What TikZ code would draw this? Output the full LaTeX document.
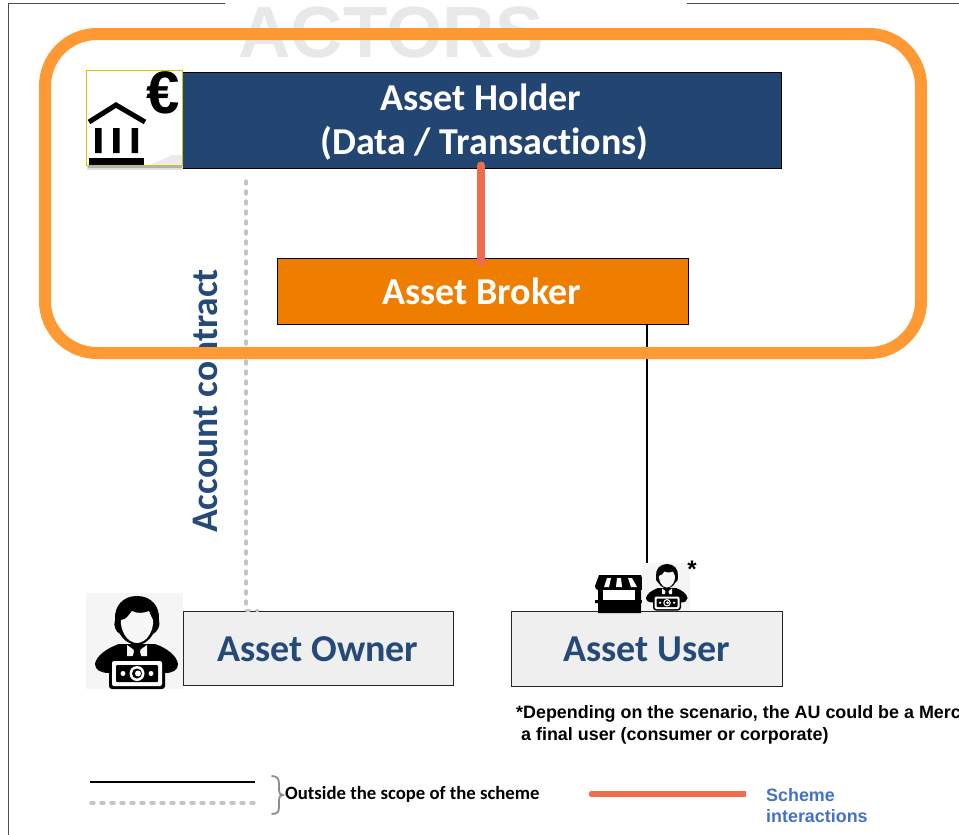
\documentclass[tikz,border=0pt]{standalone}
\usepackage{fontspec}
\setmainfont[RawFeature={-liga}]{Carlito}
\newfontfamily\arialfont{Liberation Sans}
\definecolor{navy}{HTML}{234571}
\definecolor{navytxt}{HTML}{254A78}
\definecolor{brokerc}{HTML}{EE7D00}
\definecolor{framec}{HTML}{FF9933}
\definecolor{redc}{HTML}{EF6C4D}
\definecolor{lightbox}{HTML}{EFEFEF}
\definecolor{dotc}{HTML}{C4C4C4}
\definecolor{bluetxt}{HTML}{4472C4}
\tikzset{
  holderbox/.style={draw=black,line width=1pt,fill=navy,inner sep=0pt,minimum width=600pt,minimum height=96pt},
  brokerbox/.style={draw=black,line width=1pt,fill=brokerc,inner sep=0pt,minimum width=411pt,minimum height=66pt},
  actorbox/.style={draw=black!85,line width=1pt,fill=lightbox,inner sep=0pt,minimum width=270pt,minimum height=74pt},
  bigtxt/.style={font=\bfseries\fontsize{38}{43.5}\selectfont,align=center,inner sep=0pt},
  redline/.style={draw=redc,line width=8pt,line cap=round},
  dotline/.style={draw=dotc,line width=3.4pt,line cap=round,dash pattern=on 3pt off 7pt},
  thinline/.style={draw=black,line width=1.2pt},
  footnote/.style={font=\arialfont\bfseries\fontsize{17.9}{20}\selectfont,anchor=west,inner sep=0pt},
  legendblue/.style={font=\arialfont\bfseries\fontsize{17.9}{21}\selectfont,text=bluetxt,anchor=west,inner sep=0pt},
  pics/person/.style={code={
    \fill[black!4] (1,3) rectangle (98,99);
    \fill[black] (52,6) .. controls (66,6) and (75,16) .. (74,30) .. controls (76,36) and (72,42) .. (68,44) .. controls (64,51) and (58,55) .. (52,55) .. controls (46,55) and (39,51) .. (35,44) .. controls (31,42) and (28,36) .. (30,30) .. controls (29,16) and (38,6) .. (52,6) -- cycle;
    \fill[black!3] (36,30) .. controls (42,30) and (44,24) .. (47,21) .. controls (52,24) and (60,23) .. (64,21) .. controls (66,26) and (67,28) .. (68,30) .. controls (69,40) and (62,53) .. (52,53) .. controls (42,53) and (35,40) .. (36,30) -- cycle;
    \fill[black] (34,54) -- (70,54) .. controls (82,58) and (92,66) .. (93,74) .. controls (93,80) and (88,83) .. (80,83) -- (24,83) .. controls (16,83) and (10,80) .. (10,74) .. controls (11,66) and (22,58) .. (34,54) -- cycle;
    \fill[black!3] (42,55) -- (52,62) -- (62,55) -- (62,66) -- (42,66) -- cycle;
    \fill[black] (48,56) -- (56,56) -- (55,62) -- (58,72) -- (46,72) -- (49,62) -- cycle;
    \fill[black,rounded corners=3pt] (24,68) rectangle (80,99);
    \fill[white,rounded corners=2pt] (27,71) rectangle (77,96);
    \fill[black,rounded corners=1pt] (31,75) rectangle (73,92);
    \fill[white] (52,83.5) circle (7.5);
    \fill[black] (52,83.5) circle (5);
    \fill[white] (53,83.5) circle (3);
    \fill[white] (38,83.5) circle (2.5);
    \fill[white] (66,83.5) circle (2.5);
  }}
}
\begin{document}
\begin{tikzpicture}[x=1pt,y=-1pt]
\useasboundingbox (0,0) rectangle (959,835);
\clip (0,0) rectangle (959,835);
\fill[white] (0,0) rectangle (959,835);
% outer border
\draw[black!70,line width=1pt] (225,3.5) -- (8,3.5) -- (8,835);
\draw[black!70,line width=1pt] (687,3.5) -- (959,3.5);
% title
\node[font=\arialfont\bfseries\fontsize{72.5}{80}\selectfont,text=black!9,inner sep=0pt,anchor=base] (title) at (391,57) {ACTORS};
% named free ends
\coordinate (acTop) at (246,181);
\coordinate (brokerFoot) at (614,324.5);
\coordinate (userTop) at (647,563);
% boxes
\node[holderbox] (holder) at (481,120) {};
\node[brokerbox] (broker) at (482.5,291) {};
\node[actorbox] (owner) at (318,648) {};
\node[actorbox,minimum width=271pt,minimum height=75pt] (user) at (646.5,648.5) {};
% connectors
\draw[thinline] (brokerFoot) -- (userTop |- brokerFoot) -- (userTop);
\draw[dotline] (acTop) -- (acTop |- owner.north) -- ++(12,0);
\draw[redline] ([yshift=3pt]holder.south) -- ([yshift=-5pt]holder.south |- broker.north);
% box labels
\node[bigtxt,text=white] (holdertxt) at (484.5,122) {\makebox[0pt]{\kern-7pt Asset Holder}\\(Data / Transactions)};
\node[bigtxt,text=white] (brokertxt) at (481.5,291) {Asset Broker};
\node[bigtxt,text=navytxt] (ownertxt) at (318,649.5) {Asset Owner};
\node[bigtxt,text=navytxt] (usertxt) at (646.5,649.5) {Asset User};
\node[bigtxt,font=\bfseries\fontsize{37.5}{43}\selectfont,text=navytxt,rotate=90] (contract) at (205,401) {Account contract};
% bank icon
\fill[black!12] (87,165) rectangle (183,170);
\fill[black!30] (88,165) rectangle (182,168);
\fill[white] (86,70) rectangle (182,165);
\fill[black!8] (150,165) -- (182,165) -- (182,155) -- (172,155) -- cycle;
\draw[yellow!60!olive,line width=1pt] (86,70) rectangle (182,165);
\draw[black,line width=5pt] (89,122) -- (116,105) -- (145,122);
\fill[black] (95,128) rectangle (101.5,153) (113,128) rectangle (119.5,153) (131.5,128) rectangle (138,153);
\fill[black] (89,158) rectangle (144,165);
\node[font=\arialfont\bfseries\fontsize{60}{60}\selectfont,text=black,inner sep=0pt] (euro) at (163,93) {€};
% person icon
\pic at (85,590) {person};
% shop icon
\fill[black] (599,575) -- (641,575) -- (645,586) .. controls (645,590) and (641,590) .. (641,590) -- (641,613) -- (598,613) -- (598,590) .. controls (596,590) and (595,588) .. (595,586) -- cycle;
\fill[black] (595,600) rectangle (600,603) (640,600) rectangle (650,603);
\fill[white] (603,590) rectangle (635,600);
\fill[white] (607,578) -- (611,578) -- (609,587) -- (604,587) -- cycle;
\fill[white] (617,578) -- (621,578) -- (622,587) -- (616,587) -- cycle;
\fill[white] (628,578) -- (632,578) -- (637,587) -- (631,587) -- cycle;
% small person icon
\pic[shift={(641,561)},scale=.5] {person};
\node[font=\arialfont\bfseries\fontsize{24}{24}\selectfont,text=black,inner sep=0pt] (star) at (692,569) {*};
% footnote
\node[footnote] (note1) at (516,714) {*Depending on the scenario, the AU could be a Merc};
\node[footnote] (note2) at (521,735.5) {a final user (consumer or corporate)};
% legend
\coordinate (legA) at (90,782);
\coordinate (legB) at (255,782);
\coordinate (legC) at (91,803);
\coordinate (legD) at (257,803);
\coordinate (legE) at (592,794);
\coordinate (legF) at (746,794);
\draw[thinline] (legA) -- (legB);
\draw[dotline] (legC) -- (legD);
\draw[black!45,line width=1.8pt,line cap=round] (272,776) .. controls (278,776) and (279,780) .. (279,784) -- (279,790) .. controls (279,793) and (280,795) .. (283,795) .. controls (280,795) and (279,797) .. (279,800) -- (279,807) .. controls (279,811) and (278,814) .. (272,814);
\node[font=\bfseries\fontsize{18.75}{20}\selectfont,anchor=west,inner sep=0pt] (outside) at (285,794.5) {Outside the scope of the scheme};
\draw[draw=redc,line width=6.5pt] (legE) -- (legF);
\fill[redc] (legE) circle (3.25);
\node[legendblue] (scheme1) at (766,795) {Scheme};
\node[legendblue] (scheme2) at (766,816) {interactions};
% orange frame on top
\draw[framec,line width=12pt,rounded corners=52pt] (45,34) rectangle (921,353);
\end{tikzpicture}
\end{document}
